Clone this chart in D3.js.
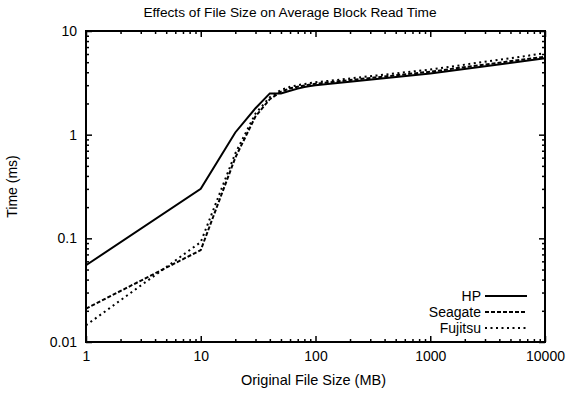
<html>
<head>
<meta charset="utf-8">
<title>Effects of File Size on Average Block Read Time</title>
<style>
  body { margin:0; background:#fff; }
  text { font-family: "Liberation Sans", Arial, sans-serif; }
</style>
</head>
<body>
<script src="https://cdn.jsdelivr.net/npm/d3@7"></script>
<script>
    var width=569;
    var height=393;
    var padding={left:86,right:24,top:31,bottom:51};

    // file sizes (MB)
    var sizes = [1, 10, 20, 30, 40, 50, 60, 70, 80, 90, 100, 1000, 10000];
    // average block read time (ms)
    var hp      = [0.055, 0.30, 1.05, 1.8, 2.5, 2.5, 2.65, 2.78, 2.88, 2.95, 3.0, 3.9, 5.45];
    var seagate = [0.021, 0.077, 0.60, 1.5, 2.2, 2.6, 2.8, 2.9, 2.98, 3.04, 3.1, 4.05, 5.65];
    var fujitsu = [0.0145, 0.092, 0.66, 1.6, 2.3, 2.7, 2.9, 3.0, 3.08, 3.15, 3.2, 4.25, 6.1];
    var seriesNames = ["HP", "Seagate", "Fujitsu"];
    var xTicks = [1, 10, 100, 1000, 10000];
    var yTicks = [0.01, 0.1, 1, 10];

    var dashes = ["none", "4,2", "2,3.5"];

    var svg=d3.select('body')
            .append('svg')
            .attr('width',width)
            .attr('height',height);

    var x=d3.scaleLog().domain([1,10000]).range([padding.left,width-padding.right]);
    var y=d3.scaleLog().domain([0.01,10]).range([height-padding.bottom,padding.top]);

    // minor ticks 2..9 in each decade
    function minors(ticks){
        var out=[];
        for(var i=0;i<ticks.length-1;i++){
            for(var k=2;k<10;k++) out.push(ticks[i]*k);
        }
        return out;
    }

    function fmt(d){ return String(+d.toPrecision(3)); }

    var x0=padding.left, x1=width-padding.right, y0=height-padding.bottom, y1=padding.top;

    //坐标轴
    function addAxis(axis, tx, ty, labels){
        var g=svg.append("g")
            .attr("transform","translate("+tx+","+ty+")")
            .call(axis);
        g.select(".domain").remove();
        g.selectAll("line").attr("stroke","#000").attr("stroke-width",1.5);
        g.selectAll("text").attr("font-size",14).attr("fill","#000");
        if(!labels) g.selectAll("text").remove();
        return g;
    }

    addAxis(d3.axisBottom(x).tickValues(xTicks).tickSizeInner(-6).tickSizeOuter(0).tickPadding(9).tickFormat(fmt),0,y0,true);
    addAxis(d3.axisBottom(x).tickValues(minors(xTicks)).tickSizeInner(-3).tickSizeOuter(0),0,y0,false);
    addAxis(d3.axisTop(x).tickValues(xTicks).tickSizeInner(-6).tickSizeOuter(0),0,y1,false);
    addAxis(d3.axisTop(x).tickValues(minors(xTicks)).tickSizeInner(-3).tickSizeOuter(0),0,y1,false);
    addAxis(d3.axisLeft(y).tickValues(yTicks).tickSizeInner(-6).tickSizeOuter(0).tickPadding(9).tickFormat(fmt),x0,0,true);
    addAxis(d3.axisLeft(y).tickValues(minors(yTicks)).tickSizeInner(-3).tickSizeOuter(0),x0,0,false);
    addAxis(d3.axisRight(y).tickValues(yTicks).tickSizeInner(-6).tickSizeOuter(0),x1,0,false);
    addAxis(d3.axisRight(y).tickValues(minors(yTicks)).tickSizeInner(-3).tickSizeOuter(0),x1,0,false);

    //数据线
    var line=d3.line()
        .x(function(d){ return x(d[0]); })
        .y(function(d){ return y(d[1]); });

    [hp, seagate, fujitsu].forEach(function(vals,i){
        svg.append("path")
            .datum(sizes.map(function(s,j){ return [s, vals[j]]; }))
            .attr("d",line)
            .attr("fill","none")
            .attr("stroke","#000")
            .attr("stroke-width",2)
            .attr("stroke-dasharray",dashes[i]);
    });

    //边框
    svg.append("rect")
        .attr("x",x0).attr("y",y1)
        .attr("width",x1-x0).attr("height",y0-y1)
        .attr("fill","none").attr("stroke","#000").attr("stroke-width",2);

    //图例
    var legend=svg.append("g");
    seriesNames.forEach(function(name,i){
        var ly=296+i*16;
        legend.append("text")
            .attr("x",481).attr("y",ly)
            .attr("dy","0.35em")
            .attr("text-anchor","end")
            .attr("font-size",14)
            .text(name);
        legend.append("line")
            .attr("x1",485).attr("x2",527)
            .attr("y1",ly).attr("y2",ly)
            .attr("stroke","#000").attr("stroke-width",2)
            .attr("stroke-dasharray",dashes[i]);
    });

    //标题
    svg.append("text")
        .attr("x",290).attr("y",17)
        .attr("text-anchor","middle").attr("font-size",13.7)
        .text("Effects of File Size on Average Block Read Time");

    svg.append("text")
        .attr("x",(x0+x1)/2-2).attr("y",385)
        .attr("text-anchor","middle").attr("font-size",14.5)
        .text("Original File Size (MB)");

    svg.append("text")
        .attr("transform","translate(17,"+((y0+y1)/2)+") rotate(-90)")
        .attr("text-anchor","middle").attr("font-size",14)
        .text("Time (ms)");
</script>
</body>
</html>
